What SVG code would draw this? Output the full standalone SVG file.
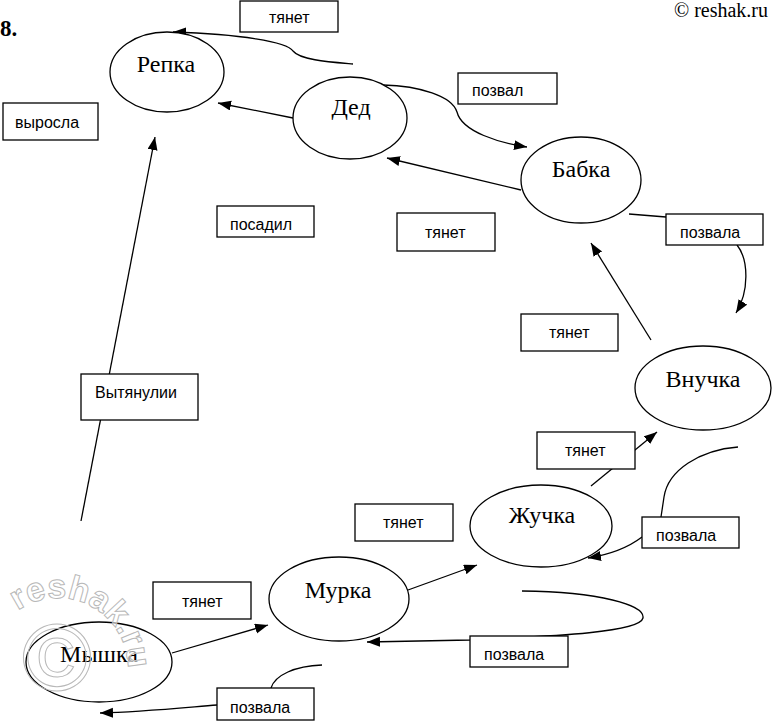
<svg xmlns="http://www.w3.org/2000/svg" width="773" height="721" viewBox="0 0 773 721">
<defs>
<marker id="ah" markerUnits="userSpaceOnUse" markerWidth="14" markerHeight="12" refX="13" refY="5" orient="auto">
<path d="M0,0 L13,5 L0,10 Z" fill="#000"/>
</marker>
<path id="wmarc" d="M17.8,610.7 A70,70 0 0 1 121.4,697.6"/>
</defs>
<style>
.node ellipse{fill:#fff;stroke:#000;stroke-width:1.3}
.nl{font-family:"Liberation Serif",serif;font-size:24px;text-anchor:middle;fill:#000}
.box rect{fill:#fff;stroke:#000;stroke-width:1.3}
.bl{font-family:"Liberation Sans",Arial,sans-serif;font-size:16px;fill:#000}
.conn path{fill:none;stroke:#000;stroke-width:1.3}
.arr{marker-end:url(#ah)}
</style>
<rect width="773" height="721" fill="#fff"/>
<text x="0" y="36" font-family="Liberation Serif,serif" font-size="23" font-weight="bold">8.</text>
<text x="768" y="17" font-family="Liberation Serif,serif" font-size="20" text-anchor="end">© reshak.ru</text>

<g id="connectors" class="conn">
<path class="arr" d="M353,64 C330,62 300,60 293,51 C287,42 240,34 173,32"/>
<path class="arr" d="M293,118 L218,103"/>
<path class="arr" d="M383,85 C420,86 452,96 457,112 C462,132 500,143 527,147"/>
<path class="arr" d="M521,190 L387,158"/>
<path d="M629,214 L666,217"/>
<path class="arr" d="M737,245 C749,260 749,292 736,313"/>
<path class="arr" d="M651,340 L591,243"/>
<path class="arr" d="M591,486 L657,432"/>
<path d="M738,447 C700,450 668,470 664,497 L661,517"/>
<path class="arr" d="M642,537 C625,550 607,555 588,558"/>
<path class="arr" d="M408,590 L477,565"/>
<path class="arr" d="M522,591 C600,592 645,605 643,618 C640,632 560,636 470,640 L367,642"/>
<path class="arr" d="M172,653 L268,625"/>
<path d="M322,665 C295,666 275,675 271,688"/>
<path class="arr" d="M217,705 C180,708 140,712 100,713"/>
<path class="arr" d="M81,521 L155,137"/>
</g>

<g id="n-repka" class="node"><ellipse cx="167" cy="72" rx="57" ry="40"/><text class="nl" x="166" y="72">Репка</text></g>
<g id="n-ded" class="node"><ellipse cx="350" cy="118" rx="57" ry="41"/><text class="nl" x="351" y="115">Дед</text></g>
<g id="n-babka" class="node"><ellipse cx="581" cy="180" rx="60" ry="43"/><text class="nl" x="581" y="177">Бабка</text></g>
<g id="n-vnuchka" class="node"><ellipse cx="703" cy="388" rx="68" ry="42"/><text class="nl" x="703" y="387">Внучка</text></g>
<g id="n-zhuchka" class="node"><ellipse cx="541" cy="526" rx="71" ry="41"/><text class="nl" x="542" y="523">Жучка</text></g>
<g id="n-murka" class="node"><ellipse cx="339" cy="599" rx="70" ry="42"/><text class="nl" x="338" y="598">Мурка</text></g>
<g id="n-myshka" class="node"><ellipse cx="99" cy="662" rx="73" ry="40"/><text class="nl" x="99" y="662">Мышка</text></g>

<g id="b-tyanet1" class="box"><rect x="240" y="1" width="98" height="31"/><text class="bl" x="269" y="23">тянет</text></g>
<g id="b-vyrosla" class="box"><rect x="3" y="103" width="95" height="37"/><text class="bl" x="15" y="128">выросла</text></g>
<g id="b-pozval" class="box"><rect x="458" y="73" width="99" height="31"/><text class="bl" x="472" y="96">позвал</text></g>
<g id="b-posadil" class="box"><rect x="217" y="206" width="97" height="31"/><text class="bl" x="230" y="230">посадил</text></g>
<g id="b-tyanet2" class="box"><rect x="397" y="213" width="98" height="38"/><text class="bl" x="425" y="238">тянет</text></g>
<g id="b-pozvala1" class="box"><rect x="666" y="214" width="97" height="31"/><text class="bl" x="680" y="238">позвала</text></g>
<g id="b-tyanet3" class="box"><rect x="521" y="314" width="97" height="37"/><text class="bl" x="549" y="338">тянет</text></g>
<g id="b-vytyanulii" class="box"><rect x="81" y="374" width="117" height="46"/><text class="bl" x="95" y="398">Вытянулии</text></g>
<g id="b-tyanet4" class="box"><rect x="537" y="432" width="98" height="37"/><text class="bl" x="565" y="456">тянет</text></g>
<g id="b-tyanet5" class="box"><rect x="355" y="504" width="98" height="37"/><text class="bl" x="383" y="528">тянет</text></g>
<g id="b-pozvala2" class="box"><rect x="642" y="517" width="97" height="31"/><text class="bl" x="656" y="541">позвала</text></g>
<g id="b-tyanet6" class="box"><rect x="153" y="582" width="98" height="37"/><text class="bl" x="182" y="607">тянет</text></g>
<g id="b-pozvala3" class="box"><rect x="470" y="636" width="98" height="31"/><text class="bl" x="484" y="660">позвала</text></g>
<g id="b-pozvala4" class="box"><rect x="217" y="688" width="97" height="32"/><text class="bl" x="230" y="713">позвала</text></g>

<g id="watermark" fill="none" stroke="#b8b8b8" stroke-width="1">
<text x="57" y="690" font-family="Liberation Sans,sans-serif" font-size="95" text-anchor="middle">©</text>
<text font-family="Liberation Sans,sans-serif" font-size="34" font-weight="bold" fill="#fff" fill-opacity="0.6"><textPath href="#wmarc">reshak.ru</textPath></text>
</g>
</svg>
